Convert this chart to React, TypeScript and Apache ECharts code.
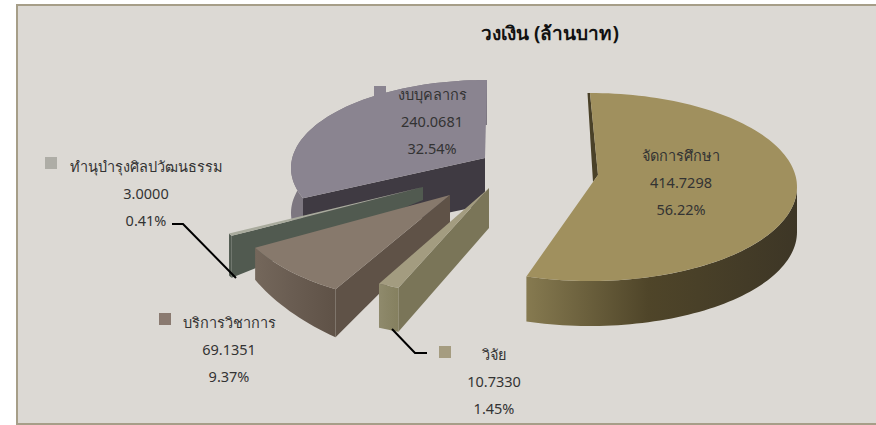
import React, { useEffect, useRef } from "react";
import * as echarts from "echarts";

const categories = ["จัดการศึกษา", "วิจัย", "บริการวิชาการ", "ทำนุบำรุงศิลปวัฒนธรรม", "งบบุคลากร"];
const values = [414.7298, 10.733, 69.1351, 3.0, 240.0681];
const percents = ["56.22%", "1.45%", "9.37%", "0.41%", "32.54%"];
const titleText = "วงเงิน (ล้านบาท)";

// geometry of each exploded, tilted slice (same order as categories); startTilt / endTilt are perspective corrections in degrees
const geometry: any[] = [
  { z: 5, cx: 590, cy: 187, rx: 207, ry: 94, vx: 598, vy: 175, notch: [593, 182], depth: 45, depthEnd: 45, vDepth: 0, startTilt: 0, endTilt: -4.5, top: "#a0905e", radial: "#4a4128", rimFrom: "#867a50", rimMid: "#4f4529", rimTo: "#3d3626" },
  { z: 4, cx: 488, cy: 188, rx: 235, ry: 108, vx: 489, vy: 188, depth: 44, depthEnd: 44, vDepth: 40, startTilt: 0, endTilt: 0, top: "#a39c80", radial: "#7a7558", rimFrom: "#8f8a6c", rimMid: "#8a8566", rimTo: "#85805f" },
  { z: 3, cx: 450, cy: 195, rx: 222, ry: 110, vx: 450, vy: 195, depth: 48, depthEnd: 32, vDepth: 28, startTilt: 3.4, endTilt: 0, top: "#87796c", radial: "#5f5247", rimFrom: "#74675b", rimMid: "#6a5d52", rimTo: "#5f5247" },
  { z: 2, cx: 423, cy: 187, rx: 218, ry: 102, vx: 423, vy: 187, depth: 42, depthEnd: 42, vDepth: 13, startTilt: 0, endTilt: 0, top: "#a9ab9d", radial: "#515a50", rimFrom: "#515a50", rimMid: "#515a50", rimTo: "#515a50" },
  { z: 1, cx: 487, cy: 168, rx: 196, ry: 88, vx: 485, vy: 158, depth: 45, depthEnd: 45, vDepth: 47, startTilt: 7, endTilt: 0, top: "#8a8490", radial: "#3f3a42", rimFrom: "#7d7780", rimMid: "#7d7780", rimTo: "#7d7780" },
];

const labelLayout = [
  { x: 681, y: 155, keyX: -1, keyY: -1, color: "" },
  { x: 494, y: 354, keyX: 439, keyY: 346, color: "#a59c80" },
  { x: 229, y: 322, keyX: 159, keyY: 313, color: "#8a7a70" },
  { x: 146, y: 166, keyX: 45, keyY: 157, color: "#aeada6" },
  { x: 432, y: 94, keyX: 374, keyY: 86, color: "#8a8490" },
];

const leaders = [
  [[172, 224], [183, 224], [236, 278]],
  [[392, 329], [415, 353], [427, 353]],
];

const total = values.reduce((a, b) => a + b, 0);
const spans: number[][] = [];
values.reduce((acc, v) => {
  const next = acc + (v / total) * Math.PI * 2;
  spans.push([acc, next]);
  return next;
}, 0);

function rimPoint(g: any, a: number, dy = 0) {
  return [g.cx + g.rx * Math.sin(a), g.cy - g.ry * Math.cos(a) + dy];
}
function arcPoints(g: any, a0: number, a1: number, depth0 = 0, depth1 = 0) {
  const n = Math.max(2, Math.ceil(Math.abs(a1 - a0) / 0.03));
  const pts: number[][] = [];
  for (let i = 0; i <= n; i++) {
    const t = i / n;
    pts.push(rimPoint(g, a0 + (a1 - a0) * t, depth0 + (depth1 - depth0) * t));
  }
  return pts;
}

function renderSlice(_: any, api: any) {
  const i = api.value(0);
  const g = geometry[i];
  const a0 = spans[i][0] + (g.startTilt * Math.PI) / 180;
  const a1 = spans[i][1] + (g.endTilt * Math.PI) / 180;
  const children: any[] = [];
  const wallStart = Math.max(a0, Math.PI / 2);

  // outer rim wall
  const upper = arcPoints(g, wallStart, a1);
  const lower = arcPoints(g, wallStart, a1, g.depth, g.depthEnd);
  children.push({
    type: "polygon",
    z2: g.z * 10,
    shape: { points: [...upper, ...lower.reverse()] },
    style: {
      fill: new echarts.graphic.LinearGradient(0, 0, 1, 0, [
        { offset: 0, color: g.rimFrom },
        { offset: 0.45, color: g.rimMid },
        { offset: 1, color: g.rimTo },
      ]),
    },
  });

  const p = rimPoint(g, a0);
  if (g.notch) {
    // narrow dark sliver seen at the inner edge of the large slice
    children.push({
      type: "polygon",
      z2: g.z * 10 + 1,
      shape: { points: [p, [g.vx, g.vy], g.notch, [p[0] - 2.5, p[1]]] },
      style: { fill: g.radial },
    });
  } else {
    children.push({
      type: "polygon",
      z2: g.z * 10 + 1,
      shape: { points: [[g.vx, g.vy], p, [p[0], p[1] + g.depth], [g.vx, g.vy + g.vDepth]] },
      style: { fill: g.radial },
    });
  }

  // top face
  const inner = g.notch ? [[g.vx, g.vy], g.notch] : [[g.vx, g.vy]];
  children.push({
    type: "polygon",
    z2: g.z * 10 + 2,
    shape: { points: g.notch ? [...inner, ...arcPoints(g, a1, a0)] : [...inner, ...arcPoints(g, a0, a1)] },
    style: { fill: g.top },
  });

  return { type: "group", children };
}

const labelGraphics = categories.map((name, i) => {
  const l = labelLayout[i];
  const lines = [name, values[i].toFixed(4), percents[i]];
  return lines.map((t, k) => ({
    type: "text",
    z: 20,
    x: l.x,
    y: l.y + k * 27,
    style: {
      text: t,
      fill: "#333333",
      font: "14.5px 'Noto Sans', sans-serif",
      textAlign: "center",
      textVerticalAlign: "middle",
    },
  }));
}).flat();

const keyGraphics = labelLayout
  .filter((l) => l.keyX >= 0)
  .map((l) => ({
    type: "rect",
    z: 20,
    shape: { x: l.keyX, y: l.keyY, width: 12, height: 12 },
    style: { fill: l.color },
  }));

const leaderGraphics = leaders.map((pts) => ({
  type: "polyline",
  z: 19,
  shape: { points: pts },
  style: { stroke: "#000000", lineWidth: 2, fill: "none" },
}));

export default function App() {
  const ref = useRef<HTMLDivElement>(null);
  useEffect(() => {
    const chart = echarts.init(ref.current!, undefined, { renderer: "svg" });
    chart.setOption({
      animation: false,
      backgroundColor: "#ffffff",
      graphic: [
        { type: "rect", z: -1, shape: { x: 17, y: 5, width: 900, height: 419 }, style: { fill: "#dcd9d4", stroke: "#a69e88", lineWidth: 2 } },
        {
          type: "text",
          z: 20,
          x: 550,
          y: 33,
          style: { text: titleText, fill: "#111111", font: "bold 19px 'Noto Sans', sans-serif", textAlign: "center", textVerticalAlign: "middle" },
        },
        ...keyGraphics,
        ...leaderGraphics,
        ...labelGraphics,
      ],
      series: [
        {
          type: "custom",
          coordinateSystem: "none",
          renderItem: renderSlice,
          data: values.map((v, i) => [i, v]),
          encode: { value: 1 },
          silent: true,
          z: 5,
        },
      ],
    });
    return () => chart.dispose();
  }, []);
  return <div ref={ref} style={{ position: "absolute", left: 0, top: 0, width: 876, height: 425 }} />;
}
